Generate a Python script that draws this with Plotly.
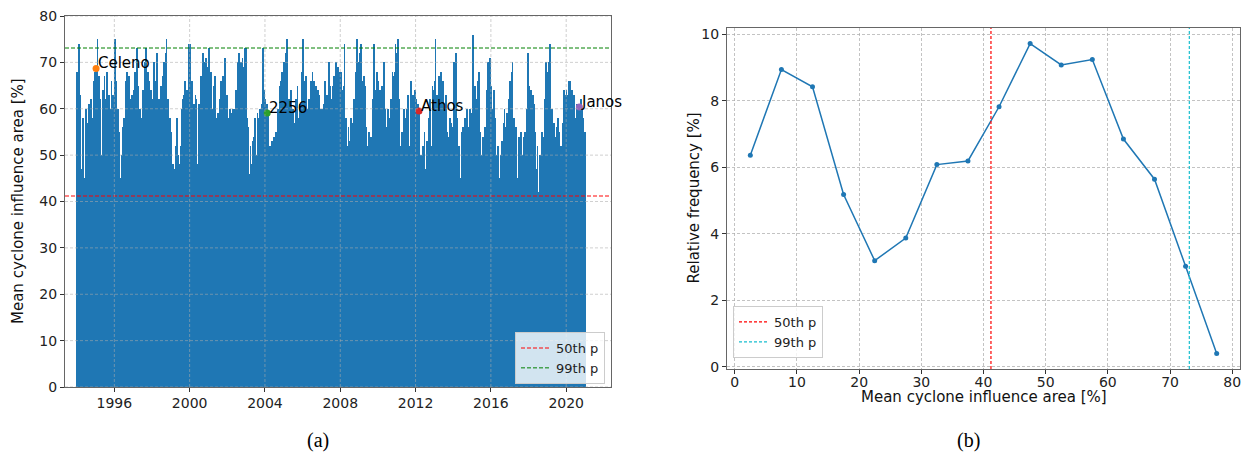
import plotly.graph_objects as go

# ---------------- Data (a): mean cyclone influence area, semi-monthly estimates ----------------
area_1994 = [68, 52, 74, 58, 63, 47, 5, 52, 58, 45, 30, 60, 50, 57, 45, 61, 52, 47, 62, 50, 58, 66, 52, 68]
area_1995 = [69, 55, 75, 60, 67, 8, 62, 50, 39, 64, 52, 67, 48, 62, 68, 50, 55, 63, 48, 60, 66, 50, 63, 54]
area_1996 = [75, 60, 66, 50, 60, 48, 55, 16, 45, 50, 42, 56, 58, 46, 66, 9, 68, 55, 67, 50, 62, 52, 63, 55]
area_1997 = [64, 52, 68, 55, 73, 5, 65, 50, 60, 32, 58, 48, 64, 52, 70, 50, 73, 55, 68, 50, 66, 52, 64, 55]
area_1998 = [62, 50, 70, 0, 66, 55, 72, 52, 62, 48, 5, 65, 52, 67, 50, 70, 55, 72, 75, 55, 62, 45, 58, 48]
area_1999 = [55, 45, 48, 19, 47, 26, 52, 58, 46, 50, 42, 48, 52, 60, 48, 62, 63, 50, 66, 55, 64, 52, 62, 74]
area_2000 = [74, 55, 62, 66, 52, 61, 50, 63, 62, 48, 11, 61, 52, 61, 67, 55, 68, 72, 55, 70, 71, 24, 69, 55]
area_2001 = [73, 55, 64, 68, 52, 60, 65, 50, 67, 55, 58, 48, 59, 50, 62, 66, 55, 25, 67, 55, 69, 71, 55, 63]
area_2002 = [58, 48, 55, 60, 50, 59, 60, 52, 60, 50, 61, 64, 55, 70, 72, 58, 66, 70, 55, 71, 1, 69, 73, 58]
area_2003 = [73, 58, 56, 45, 46, 52, 42, 48, 53, 45, 54, 58, 50, 11, 59, 52, 58, 60, 50, 61, 52, 73, 64, 52]
area_2004 = [62, 52, 61, 59, 55, 45, 52, 42, 53, 48, 51, 54, 36, 46, 55, 45, 60, 52, 65, 55, 66, 68, 55, 67]
area_2005 = [70, 58, 72, 60, 75, 55, 62, 52, 58, 64, 50, 60, 1, 57, 48, 62, 52, 65, 55, 58, 61, 50, 68, 55]
area_2006 = [75, 58, 66, 55, 67, 52, 60, 16, 62, 52, 66, 55, 68, 14, 66, 52, 62, 65, 50, 64, 52, 63, 55, 60]
area_2007 = [60, 50, 61, 52, 66, 55, 59, 63, 52, 70, 65, 55, 27, 62, 65, 52, 67, 55, 70, 58, 66, 69, 55, 68]
area_2008 = [68, 55, 64, 52, 65, 74, 55, 58, 48, 52, 56, 1, 53, 58, 48, 2, 57, 62, 52, 68, 58, 75, 70, 60]
area_2009 = [72, 58, 74, 60, 66, 55, 67, 65, 52, 56, 48, 52, 55, 7, 19, 54, 50, 62, 66, 74, 58, 64, 68, 60]
area_2010 = [66, 55, 64, 63, 52, 65, 62, 70, 55, 60, 52, 56, 60, 50, 9, 58, 62, 52, 68, 67, 55, 68, 74, 60]
area_2011 = [72, 75, 60, 62, 52, 5, 55, 45, 57, 60, 48, 58, 52, 60, 63, 52, 1, 64, 66, 52, 63, 55, 62, 64]
area_2012 = [62, 52, 60, 61, 59, 50, 50, 11, 48, 52, 42, 55, 46, 47, 53, 44, 58, 50, 62, 52, 2, 65, 55, 64]
area_2013 = [66, 75, 58, 63, 55, 67, 62, 52, 68, 60, 66, 52, 60, 25, 63, 50, 55, 48, 54, 58, 50, 57, 56, 48]
area_2014 = [70, 56, 64, 72, 55, 58, 48, 52, 45, 7, 55, 46, 56, 48, 55, 58, 50, 60, 7, 56, 48, 60, 52, 59]
area_2015 = [62, 76, 58, 65, 55, 62, 1, 66, 68, 55, 55, 46, 50, 54, 46, 9, 56, 50, 64, 55, 70, 58, 71, 60]
area_2016 = [65, 55, 60, 64, 52, 58, 48, 50, 42, 52, 45, 45, 50, 14, 53, 46, 57, 60, 50, 56, 59, 50, 58, 62]
area_2017 = [66, 55, 68, 70, 55, 58, 48, 52, 56, 45, 31, 54, 48, 52, 55, 46, 50, 54, 46, 55, 48, 56, 60, 72]
area_2018 = [65, 55, 60, 64, 50, 63, 61, 50, 55, 45, 47, 52, 42, 26, 50, 44, 52, 55, 46, 54, 62, 66, 70, 55]
area_2019 = [68, 58, 70, 74, 58, 60, 50, 55, 57, 46, 54, 48, 56, 58, 0, 55, 48, 52, 13, 57, 52, 64, 63, 55]
area_2020 = [64, 54, 63, 66, 55, 66, 7, 64, 55, 63, 62, 52, 58, 61, 52, 60, 55, 61, 62, 52, 60, 58, 50, 55]

years = list(range(1994, 2021))
yearly_rows = [area_1994, area_1995, area_1996, area_1997, area_1998, area_1999, area_2000,
               area_2001, area_2002, area_2003, area_2004, area_2005, area_2006, area_2007,
               area_2008, area_2009, area_2010, area_2011, area_2012, area_2013, area_2014,
               area_2015, area_2016, area_2017, area_2018, area_2019, area_2020]

storm_names = ["Celeno", "2256", "Athos", "Janos"]
storm_dates = [1995.03, 2004.12, 2012.18, 2020.70]
storm_values = [68.7, 59.1, 59.5, 60.4]
storm_colors = ["#ff7f0e", "#2ca02c", "#d62728", "#9467bd"]

p50 = 41.2
p99 = 73.1

year_ticks = [1996, 2000, 2004, 2008, 2012, 2016, 2020]
area_ticks = [0, 10, 20, 30, 40, 50, 60, 70, 80]

# ---------------- Data (b): histogram of the mean cyclone influence area ----------------
bin_centers = [2.5, 7.5, 12.5, 17.5, 22.5, 27.5, 32.5, 37.5, 42.5, 47.5, 52.5, 57.5, 62.5, 67.5, 72.5, 77.5]
rel_freq = [6.36, 8.94, 8.42, 5.18, 3.19, 3.87, 6.08, 6.19, 7.82, 9.72, 9.08, 9.24, 6.85, 5.64, 3.02, 0.40]
freq_ticks = [0, 2, 4, 6, 8, 10]
bin_ticks = [0, 10, 20, 30, 40, 50, 60, 70, 80]

# ---------------- Build ----------------
xs, ys = [], []
for yr, row in zip(years, yearly_rows):
    n = len(row)
    for i, v in enumerate(row):
        xs.append(yr + (i + 0.5) / n)
        ys.append(v)

W, H = 1242, 458
FONT = "DejaVu Sans"
BLUE = "#1f77b4"
XR_A = [1993.38, 2022.38]
YR_A = [0, 80]
XR_B = [-1.25, 81.25]
YR_B = [-0.07, 10.19]


def px(x):
    return x / W


def py(y):
    return (H - y) / H


fig = go.Figure()

fig.add_trace(go.Bar(x=xs, y=ys, width=1 / 24, marker=dict(color=BLUE, line=dict(width=0)),
                     showlegend=False, xaxis="x", yaxis="y"))

fig.add_trace(go.Scatter(x=XR_A, y=[p50, p50], mode="lines", name="50th p",
                         line=dict(color="rgba(255,0,0,0.65)", width=1.5, dash="4px,2px"),
                         xaxis="x", yaxis="y", legend="legend"))
fig.add_trace(go.Scatter(x=XR_A, y=[p99, p99], mode="lines", name="99th p",
                         line=dict(color="green", width=1, dash="4px,2px"),
                         xaxis="x", yaxis="y", legend="legend"))

fig.add_trace(go.Scatter(x=storm_dates, y=storm_values, mode="markers",
                         marker=dict(color=storm_colors, size=7), showlegend=False,
                         xaxis="x", yaxis="y"))

# (b)
fig.add_trace(go.Scatter(x=bin_centers, y=rel_freq, mode="lines+markers",
                         line=dict(color=BLUE, width=1.5), marker=dict(color=BLUE, size=5),
                         showlegend=False, xaxis="x2", yaxis="y2"))
fig.add_trace(go.Scatter(x=[p50, p50], y=YR_B, mode="lines", name="50th p",
                         line=dict(color="red", width=1.2, dash="3px,2px"),
                         xaxis="x2", yaxis="y2", legend="legend2"))
fig.add_trace(go.Scatter(x=[p99, p99], y=YR_B, mode="lines", name="99th p",
                         line=dict(color="#17becf", width=1.2, dash="3px,2px"),
                         xaxis="x2", yaxis="y2", legend="legend2"))

shapes = []
GRID = "rgba(170,170,170,0.7)"
for t in year_ticks:
    shapes.append(dict(type="line", xref="x", yref="y domain", x0=t, x1=t, y0=0, y1=1,
                       line=dict(color=GRID, width=0.8, dash="3px,2px"), layer="above"))
for t in area_ticks:
    shapes.append(dict(type="line", xref="x domain", yref="y", x0=0, x1=1, y0=t, y1=t,
                       line=dict(color=GRID, width=0.8, dash="3px,2px"), layer="above"))

annotations = []
for name, d, v in zip(storm_names, storm_dates, storm_values):
    annotations.append(dict(x=d, y=v, xref="x", yref="y", text=name, showarrow=False,
                            xanchor="left", yanchor="bottom", xshift=0, yshift=-6,
                            font=dict(family=FONT, size=15, color="black")))

annotations += [
    dict(x=px(18), y=py(201), xref="paper", yref="paper", text="Mean cyclone influence area [%]",
         textangle=-90, showarrow=False, xanchor="center", yanchor="middle",
         font=dict(family=FONT, size=15, color="#111")),
    dict(x=px(693), y=py(198.5), xref="paper", yref="paper", text="Relative frequency [%]",
         textangle=-90, showarrow=False, xanchor="center", yanchor="middle",
         font=dict(family=FONT, size=15, color="#111")),
    dict(x=px(983.5), y=py(397), xref="paper", yref="paper",
         text="Mean cyclone influence area [%]", showarrow=False, xanchor="center", yanchor="middle",
         font=dict(family=FONT, size=15, color="#111")),
    dict(x=px(318), y=py(440), xref="paper", yref="paper", text="(a)", xanchor="center",
         yanchor="middle", showarrow=False,
         font=dict(family="Liberation Serif", size=20, color="black")),
    dict(x=px(968), y=py(440), xref="paper", yref="paper", text="(b)", xanchor="center",
         yanchor="middle", showarrow=False,
         font=dict(family="Liberation Serif", size=20, color="black")),
]

axis_common = dict(showline=True, linecolor="#666", linewidth=1, mirror=True, ticks="outside",
                   ticklen=4, tickcolor="#333", tickfont=dict(family=FONT, size=14, color="#222"),
                   zeroline=False)

legend_common = dict(bgcolor="rgba(255,255,255,0.8)", bordercolor="#cccccc", borderwidth=1,
                     font=dict(family=FONT, size=13, color="#222"), itemwidth=30,
                     tracegroupgap=0)

fig.update_layout(
    width=W, height=H, margin=dict(l=0, r=0, t=0, b=0, autoexpand=False),
    paper_bgcolor="white", plot_bgcolor="white", bargap=0,
    font=dict(family=FONT),
    xaxis=dict(domain=[px(65), px(611)], range=XR_A, tickvals=year_ticks,
               ticktext=[str(t) for t in year_ticks], showgrid=False, anchor="y",
               ticklabelstandoff=-1, **axis_common),
    yaxis=dict(domain=[py(387), py(16)], range=YR_A, tickvals=area_ticks,
               showgrid=False, anchor="x", **axis_common),
    xaxis2=dict(domain=[px(727), px(1240)], range=XR_B, tickvals=bin_ticks,
                showgrid=True, gridcolor=GRID, griddash="3px,2px", gridwidth=0.8,
                anchor="y2", ticklabelstandoff=-4, **axis_common),
    yaxis2=dict(domain=[py(369), py(28)], range=YR_B, tickvals=freq_ticks,
                showgrid=True, gridcolor=GRID, griddash="3px,2px", gridwidth=0.8,
                anchor="x2", **axis_common),
    legend=dict(x=px(605), y=py(384), xanchor="right", yanchor="bottom", **legend_common),
    legend2=dict(x=px(733), y=py(358), xanchor="left", yanchor="bottom", **legend_common),
    shapes=shapes,
    annotations=annotations,
)

fig.write_html("out.html", config={"displayModeBar": False},
               post_script="document.body.style.margin='0';document.body.style.overflow='hidden';")
